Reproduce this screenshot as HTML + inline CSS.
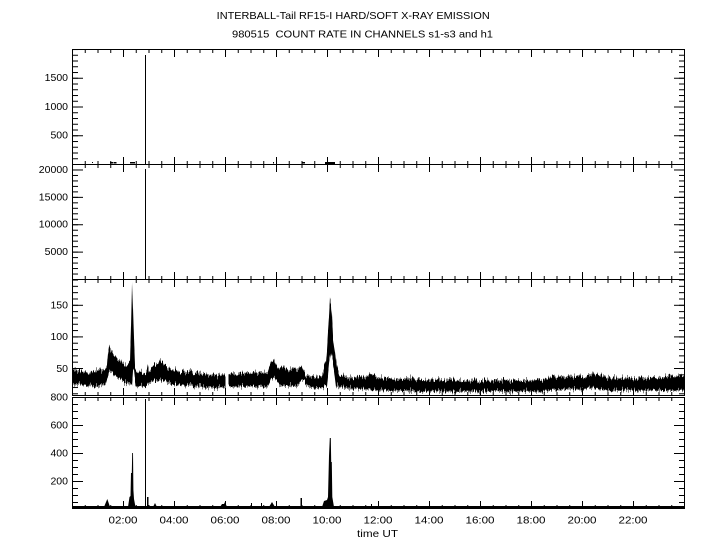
<!DOCTYPE html>
<html>
<head>
<meta charset="utf-8">
<style>
  html,body{margin:0;padding:0;background:#fff;}
  svg{display:block;}
  text{font-family:"Liberation Sans",sans-serif;font-size:10.5px;fill:#000;}
</style>
</head>
<body>
<svg width="720" height="550" viewBox="0 0 720 550" xmlns="http://www.w3.org/2000/svg">
<rect x="0" y="0" width="720" height="550" fill="#fff"/>
<defs>
  <pattern id="xm" x="72" y="0" width="12.75" height="10" patternUnits="userSpaceOnUse"><rect x="0" y="0" width="1" height="10" fill="#000"/></pattern>
  <pattern id="xM" x="72" y="0" width="51" height="10" patternUnits="userSpaceOnUse"><rect x="0" y="0" width="1" height="10" fill="#000"/></pattern>
  <pattern id="y1m" x="0" y="164" width="720" height="5.75" patternUnits="userSpaceOnUse"><rect width="720" height="1" fill="#000"/></pattern>
  <pattern id="y1M" x="0" y="164" width="720" height="28.75" patternUnits="userSpaceOnUse"><rect width="720" height="1" fill="#000"/></pattern>
  <pattern id="y2m" x="0" y="279" width="720" height="5.476" patternUnits="userSpaceOnUse"><rect width="720" height="1" fill="#000"/></pattern>
  <pattern id="y2M" x="0" y="279" width="720" height="27.38" patternUnits="userSpaceOnUse"><rect width="720" height="1" fill="#000"/></pattern>
  <pattern id="y3m" x="0" y="368" width="720" height="6.32" patternUnits="userSpaceOnUse"><rect width="720" height="1" fill="#000"/></pattern>
  <pattern id="y3M" x="0" y="368" width="720" height="31.6" patternUnits="userSpaceOnUse"><rect width="720" height="1" fill="#000"/></pattern>
  <pattern id="y4m" x="0" y="397" width="720" height="7" patternUnits="userSpaceOnUse"><rect width="720" height="1" fill="#000"/></pattern>
  <pattern id="y4M" x="0" y="397" width="720" height="28" patternUnits="userSpaceOnUse"><rect width="720" height="1" fill="#000"/></pattern>
  <filter id="jag" filterUnits="userSpaceOnUse" x="60" y="270" width="640" height="130">
    <feTurbulence type="fractalNoise" baseFrequency="0.9 0.01" numOctaves="2" seed="7" result="n"/>
    <feColorMatrix in="n" type="matrix" values="0 0 0 0 0.5  0 1 0 0 0  0 0 0 0 0  0 0 0 0 1" result="m"/>
    <feDisplacementMap in="SourceGraphic" in2="m" scale="12" xChannelSelector="R" yChannelSelector="G"/>
  </filter>
</defs>

<text x="216.7" y="19" textLength="273" lengthAdjust="spacingAndGlyphs">INTERBALL-Tail RF15-I HARD/SOFT X-RAY EMISSION</text>
<text x="232" y="37.3" textLength="261" lengthAdjust="spacingAndGlyphs" style="white-space:pre">980515&#160; COUNT RATE IN CHANNELS s1-s3 and h1</text>

<g fill="none" stroke="#000" stroke-width="1" shape-rendering="crispEdges">
  <rect x="72.5" y="49.5" width="612" height="115"/>
  <rect x="72.5" y="164.5" width="612" height="115"/>
  <rect x="72.5" y="279.5" width="612" height="116"/>
  <rect x="72.5" y="397.5" width="612" height="111"/>
</g>

<g shape-rendering="crispEdges">
  <rect x="72" y="49" width="613" height="4" fill="url(#xm)"/>
  <rect x="72" y="49" width="613" height="8" fill="url(#xM)"/>
  <rect x="72" y="161" width="613" height="4" fill="url(#xm)"/>
  <rect x="72" y="157" width="613" height="8" fill="url(#xM)"/>
  <rect x="72" y="164" width="613" height="4" fill="url(#xm)"/>
  <rect x="72" y="164" width="613" height="8" fill="url(#xM)"/>
  <rect x="72" y="276" width="613" height="4" fill="url(#xm)"/>
  <rect x="72" y="272" width="613" height="8" fill="url(#xM)"/>
  <rect x="72" y="279" width="613" height="4" fill="url(#xm)"/>
  <rect x="72" y="279" width="613" height="8" fill="url(#xM)"/>
  <rect x="72" y="392" width="613" height="4" fill="url(#xm)"/>
  <rect x="72" y="388" width="613" height="8" fill="url(#xM)"/>
  <rect x="72" y="397" width="613" height="4" fill="url(#xm)"/>
  <rect x="72" y="397" width="613" height="8" fill="url(#xM)"/>
  <rect x="72" y="505" width="613" height="4" fill="url(#xm)"/>
  <rect x="72" y="501" width="613" height="8" fill="url(#xM)"/>
</g>

<g shape-rendering="crispEdges">
  <rect x="72" y="49" width="6" height="116" fill="url(#y1m)"/>
  <rect x="72" y="49" width="11" height="116" fill="url(#y1M)"/>
  <rect x="679" y="49" width="6" height="116" fill="url(#y1m)"/>
  <rect x="674" y="49" width="11" height="116" fill="url(#y1M)"/>
  <rect x="72" y="164" width="6" height="116" fill="url(#y2m)"/>
  <rect x="72" y="164" width="11" height="116" fill="url(#y2M)"/>
  <rect x="679" y="164" width="6" height="116" fill="url(#y2m)"/>
  <rect x="674" y="164" width="11" height="116" fill="url(#y2M)"/>
  <rect x="72" y="279" width="6" height="117" fill="url(#y3m)"/>
  <rect x="72" y="279" width="11" height="117" fill="url(#y3M)"/>
  <rect x="679" y="279" width="6" height="117" fill="url(#y3m)"/>
  <rect x="674" y="279" width="11" height="117" fill="url(#y3M)"/>
  <rect x="72" y="397" width="6" height="112" fill="url(#y4m)"/>
  <rect x="72" y="397" width="11" height="112" fill="url(#y4M)"/>
  <rect x="679" y="397" width="6" height="112" fill="url(#y4m)"/>
  <rect x="674" y="397" width="11" height="112" fill="url(#y4M)"/>
</g>

<g text-anchor="end">
  <text x="68" y="81">1500</text>
  <text x="68" y="109.8">1000</text>
  <text x="68" y="138.5">500</text>
  <text x="68" y="173">20000</text>
  <text x="68" y="200.3">15000</text>
  <text x="68" y="227.6">10000</text>
  <text x="68" y="255">5000</text>
  <text x="68" y="308.5">150</text>
  <text x="68" y="340.1">100</text>
  <text x="68" y="371.8">50</text>
  <text x="68" y="400.5">800</text>
  <text x="68" y="428.6">600</text>
  <text x="68" y="456.6">400</text>
  <text x="68" y="484.6">200</text>
</g>

<g>
  <text x="108.5" y="523.5" textLength="29" lengthAdjust="spacingAndGlyphs">02:00</text>
  <text x="159.5" y="523.5" textLength="29" lengthAdjust="spacingAndGlyphs">04:00</text>
  <text x="210.5" y="523.5" textLength="29" lengthAdjust="spacingAndGlyphs">06:00</text>
  <text x="261.5" y="523.5" textLength="29" lengthAdjust="spacingAndGlyphs">08:00</text>
  <text x="312.5" y="523.5" textLength="29" lengthAdjust="spacingAndGlyphs">10:00</text>
  <text x="363.5" y="523.5" textLength="29" lengthAdjust="spacingAndGlyphs">12:00</text>
  <text x="414.5" y="523.5" textLength="29" lengthAdjust="spacingAndGlyphs">14:00</text>
  <text x="465.5" y="523.5" textLength="29" lengthAdjust="spacingAndGlyphs">16:00</text>
  <text x="516.5" y="523.5" textLength="29" lengthAdjust="spacingAndGlyphs">18:00</text>
  <text x="567.5" y="523.5" textLength="29" lengthAdjust="spacingAndGlyphs">20:00</text>
  <text x="618.5" y="523.5" textLength="29" lengthAdjust="spacingAndGlyphs">22:00</text>
  <text x="357" y="537" textLength="41" lengthAdjust="spacingAndGlyphs">time UT</text>
</g>

<g fill="#000" shape-rendering="crispEdges">
  <rect x="145" y="55" width="1" height="109"/>
  <rect x="92" y="162" width="1" height="1"/>
  <rect x="110" y="162" width="3" height="1.5"/>
  <rect x="113.5" y="162" width="3" height="1.5"/>
  <rect x="130" y="162" width="5" height="1.5"/>
  <rect x="273" y="162" width="1" height="1.5"/>
  <rect x="302" y="162" width="3" height="1.5"/>
  <rect x="325" y="162" width="10" height="2"/>
</g>

<g fill="#000" shape-rendering="crispEdges">
  <rect x="145" y="169" width="1" height="110"/>
</g>

<g fill="#000" filter="url(#jag)">
  <polygon points="72,371 75,369 78,372 81,370 84,373 87,371 90,374 93,370 96,372 99,369 102,372 105,370 107,365 108,352 109,346 110,348 112,352 114,355 117,358 120,362 123,364 126,366 128,367 130,362 131,328 132,284 133,310 134,340 135,367 137,373 140,371 143,374 146,372 148,366 149,371 152,367 155,365 158,363 160,360 162,362 165,366 168,369 171,367 174,371 177,369 180,372 183,370 186,373 190,371 194,374 198,372 202,375 206,373 210,376 214,374 218,376 222,374 225.5,375 225.5,388 220,387 215,389 210,387 205,388 200,386 195,387 190,385 185,386 180,384 175,385 170,383 165,382 160,380 155,381 150,382 147,385 144,387 140,386 137,387 135.5,385 134,372 133,370 132,384 130,385 128,384 125,383 122,381 118,378 114,375 111,371 109,372 107,380 105,385 100,386 95,387 90,385 85,386 80,384 75,385 72,384"/>
  <polygon points="228.5,376 232,373 236,375 240,372 244,374 248,372 252,374 256,371 260,373 264,371 268,373 270,365 272,360 274,359 276,365 278,369 282,367 286,369 290,370 294,368 297,371 299,368 301,365 303,370 306,376 310,377 314,376 318,377 322,376 324,368 326,360 327,348 328,332 329,318 330,299 331,303 332,317 333,337 334,344 335,350 336,358 337,365 338,371 340,377 344,376 348,378 352,377 356,378 360,376 364,378 368,376 371,373 373,373 376,377 380,378 385,379 390,378 395,380 400,379 405,380 410,378 415,380 420,379 425,381 430,379 435,380 440,379 445,381 450,380 455,379 460,381 465,380 470,381 475,380 480,382 485,380 490,381 495,380 500,381 505,379 510,381 515,380 520,381 525,380 530,381 535,380 540,379 545,380 548,377 552,376 556,377 560,376 565,378 570,376 575,377 580,376 584,378 588,376 592,374 596,375 600,374 604,376 608,378 612,377 616,379 620,377 625,379 630,378 635,379 640,377 645,379 650,378 655,377 660,378 665,377 670,376 675,377 680,375 684,376 684,390 670,391 655,390 640,391 625,390 610,391 600,389 590,388 580,390 570,389 560,390 550,390 540,392 525,391 510,392 495,391 480,392 465,391 450,392 435,391 420,392 405,391 390,391 375,390 360,389 345,388 340,387 336,386 333,362 331,352 329,365 327,385 322,388 315,388 308,387 304,381 301,380 299,384 296,387 290,386 285,386 280,386 277,381 274,377 271,378 269,386 265,387 260,386 255,387 250,386 245,387 240,386 235,387 228.5,387"/>
</g>

<g fill="#000">
  <rect x="72" y="506" width="613" height="3"/>
  <polygon points="104,507 107.3,499 110,507"/>
  <polygon points="128,507 129.5,497 130.5,496 131,473 131.8,473 132.2,453 133,453 133.4,490 134,499 135.5,507"/>
  <rect x="145" y="399" width="1" height="109"/>
  <rect x="147" y="497" width="1.5" height="10"/>
  <polygon points="153,507 155,503 157,507"/>
  <polygon points="220,507 222,504 224,504 225,502 227,507"/>
  <rect x="251" y="503" width="1" height="4"/>
  <rect x="261" y="503" width="1" height="4"/>
  <polygon points="269,507 272,502 275,507"/>
  <rect x="300.5" y="498" width="1.5" height="9"/>
  <polygon points="322,507 324,501 327,500 328,497 329,456 329.8,438 330.8,438 331.2,462 331.8,462 332.3,497 334,507"/>
  <rect x="371" y="504" width="1" height="3"/>
</g>
</svg>
</body>
</html>
